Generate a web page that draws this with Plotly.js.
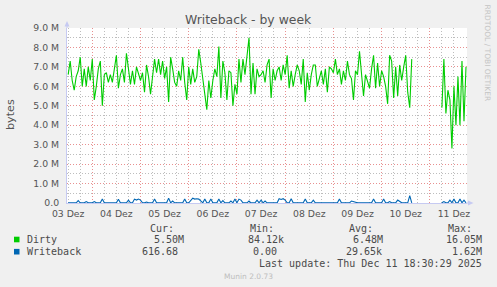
<!DOCTYPE html>
<html>
<head>
<meta charset="utf-8">
<script src="https://cdn.plot.ly/plotly-3.0.1.min.js"></script>
<style>
  html, body { margin: 0; padding: 0; background: #F0F0F0; }
  #chart { width: 497px; height: 287px; }
</style>
</head>
<body>
<div id="chart"></div>
<script>
// ---------------- DATA ----------------
const chartTitle = 'Writeback - by week';
const yTitle = 'bytes';
const dayLabels = ['03 Dez','04 Dez','05 Dez','06 Dez','07 Dez','08 Dez','09 Dez','10 Dez','11 Dez'];
const dayNoons = ['2025-12-03 12:00','2025-12-04 12:00','2025-12-05 12:00','2025-12-06 12:00','2025-12-07 12:00',
                  '2025-12-08 12:00','2025-12-09 12:00','2025-12-10 12:00','2025-12-11 12:00'];
const yTickVals = [0,1,2,3,4,5,6,7,8,9];
const yTickText = ['0.0','1.0 M','2.0 M','3.0 M','4.0 M','5.0 M','6.0 M','7.0 M','8.0 M','9.0 M'];
const xRange = ['2025-12-03 11:25:00', '2025-12-11 18:30:00'];
const seriesStart = '2025-12-03T12:00:00Z';   // first sample, hourly samples
const stepHours = 1;

// Dirty (millions of bytes), hourly
const dirty = [
  6.6,7.3,6.3,5.8,6.5,6.8,7.5,6.0,6.9,6.0,
  7.0,6.3,7.4,5.3,6.0,6.9,7.3,5.0,6.6,6.7,
  6.2,6.6,6.2,6.8,7.6,5.9,6.6,6.9,6.2,7.7,
  6.9,6.1,6.8,6.1,7.0,6.6,6.3,6.7,5.7,7.1,
  6.5,5.6,6.5,7.4,6.7,7.4,6.6,7.3,6.4,7.0,
  5.2,7.5,6.9,6.2,6.0,6.8,6.3,7.5,6.2,5.3,
  7.0,6.1,6.9,6.2,6.5,7.9,7.2,6.4,5.9,4.8,
  6.3,5.4,6.3,6.9,6.5,8.05,5.4,7.3,6.7,5.3,
  6.8,6.7,5.0,6.1,5.6,7.4,6.2,7.4,6.6,7.4,
  8.5,5.6,7.2,5.6,6.9,6.5,6.6,6.8,6.2,7.1,
  7.4,5.4,6.9,6.3,6.8,7.0,6.3,7.1,6.6,7.6,
  5.9,6.8,6.0,6.6,7.1,6.8,6.1,7.4,5.2,6.7,
  5.8,6.6,7.1,7.1,6.0,6.4,6.8,6.1,6.9,5.7,
  7.0,6.9,6.7,7.4,6.6,6.9,6.1,6.8,6.3,7.3,
  6.6,6.4,5.3,6.8,6.6,7.8,6.5,5.5,6.6,6.2,
  5.9,6.9,7.6,5.9,7.2,6.0,6.8,6.5,6.0,5.1,
  7.6,7.3,5.4,7.0,5.5,7.1,6.3,7.0,7.6,5.7,
  4.9,7.4,null,null,null,null,null,null,null,null,
  null,null,null,null,null,null,4.9,7.4,4.6,5.8,
  5.3,2.8,6.0,4.0,6.5,4.0,7.3,4.2,7.0
];

// Writeback (millions of bytes), hourly
const writeback = [
  0.01,0.01,0.01,0.01,0.01,0.12,0.01,0.01,0.01,0.07,
  0.01,0.01,0.01,0.07,0.01,0.01,0.01,0.2,0.01,0.01,
  0.01,0.01,0.01,0.01,0.01,0.19,0.01,0.01,0.01,0.01,
  0.15,0.01,0.01,0.2,0.15,0.2,0.15,0.01,0.01,0.05,
  0.01,0.01,0.01,0.2,0.01,0.01,0.01,0.01,0.01,0.01,
  0.25,0.01,0.1,0.01,0.01,0.01,0.01,0.01,0.2,0.01,
  0.01,0.15,0.25,0.2,0.22,0.2,0.12,0.01,0.2,0.01,
  0.01,0.2,0.01,0.01,0.01,0.2,0.01,0.12,0.01,0.01,
  0.01,0.1,0.01,0.2,0.01,0.2,0.15,0.01,0.01,0.01,
  0.1,0.01,0.01,0.01,0.15,0.01,0.15,0.01,0.1,0.01,
  0.01,0.01,0.01,0.01,0.01,0.22,0.18,0.22,0.15,0.01,
  0.01,0.22,0.01,0.01,0.01,0.01,0.01,0.01,0.2,0.01,
  0.01,0.01,0.15,0.01,0.01,0.01,0.01,0.01,0.01,0.01,
  0.01,0.01,0.01,0.01,0.01,0.2,0.01,0.01,0.01,0.01,
  0.01,0.1,0.07,0.01,0.01,0.01,0.01,0.01,0.01,0.01,
  0.01,0.01,0.2,0.01,0.01,0.01,0.01,0.2,0.01,0.01,
  0.07,0.01,0.01,0.01,0.15,0.1,0.01,0.01,0.01,0.01,
  0.38,0.01,null,null,null,null,null,null,null,null,
  null,null,null,null,null,null,0.01,0.07,0.01,0.01,
  0.15,0.01,0.2,0.01,0.01,0.2,0.01,0.15,0.01
];

const legendNames = ['Dirty', 'Writeback'];
const legendColors = ['#00CC00', '#0066B3'];
const statHeaders = ['Cur:', 'Min:', 'Avg:', 'Max:'];
const curVals = ['5.50M', '616.68'];
const minVals = ['84.12k', '0.00'];
const avgVals = ['6.48M', '29.65k'];
const maxVals = ['16.05M', '1.62M'];
const lastUpdate = 'Last update: Thu Dec 11 18:30:29 2025';
const footer = 'Munin 2.0.73';
const sideText = 'RRDTOOL / TOBI OETIKER';

// ---------------- BUILD ----------------
function fmt(ms) { return new Date(ms).toISOString().slice(0, 19).replace('T', ' '); }
const t0 = Date.parse(seriesStart);
function timesFor(arr) { return arr.map((_, i) => fmt(t0 + i * stepHours * 3600000)); }

// grid positions
const midnights = [], minorVals = [];
for (let d = 3; d <= 11; d++) {
  const dd = (d < 10 ? '0' : '') + d;
  if (d > 3) midnights.push('2025-12-' + dd + ' 00:00');
  minorVals.push('2025-12-' + dd + ' 06:00');
  minorVals.push('2025-12-' + dd + ' 18:00');
}

// layout geometry helpers (plot area: x 67..467, y 28..203)
const L = 67, R = 467, T = 28, B = 203;
const px = x => (x - L) / (R - L);
const py = y => (B - y) / (B - T);

const mono = 'DejaVu Sans Mono';
const sans = 'DejaVu Sans';
const txtColor = '#4a4a4a';

const annotations = [];
function ann(x, y, text, o) {
  annotations.push(Object.assign({
    xref: 'paper', yref: 'paper', x: px(x), y: py(y), text: text, showarrow: false,
    xanchor: 'left', yanchor: 'middle', borderpad: 0,
    font: { family: mono, size: 10, color: txtColor }
  }, o || {}));
}

ann(248, 19, chartTitle, { xanchor: 'center', font: { family: sans, size: 12.4, color: '#555555' } });
ann(10.5, 114.5, yTitle, { xanchor: 'center', textangle: -90, font: { family: sans, size: 11.2, color: '#555555' } });
ann(487.5, 53, sideText, { xanchor: 'center', textangle: 90, font: { family: sans, size: 7.5, color: '#C4C4C4' } });

const headerX = [149, 249, 348, 446.7];
statHeaders.forEach((h, i) => ann(headerX[i], 228.5, h));
const rowY = [239.5, 251.7];
const valRight = [[185, 285, 384, 483], [179, 278, 383, 483]];
legendNames.forEach((n, r) => {
  ann(26, rowY[r], n);
  [curVals, minVals, avgVals, maxVals].forEach((arr, c) => ann(valRight[r][c], rowY[r], arr[r], { xanchor: 'right' }));
});
ann(482.5, 263.8, lastUpdate, { xanchor: 'right' });
ann(248, 276.5, footer, { xanchor: 'center', font: { family: sans, size: 7.5, color: '#BDBDBD' } });

const axisCol = '#C6CAF2';
const shapes = [];
legendNames.forEach((n, r) => {
  shapes.push({ type: 'rect', xref: 'paper', yref: 'paper', x0: px(14), x1: px(19.5),
    y0: py(rowY[r] + 2.8), y1: py(rowY[r] - 2.8), fillcolor: legendColors[r], line: { width: 0 } });
});
// axis arrows
shapes.push({ type: 'line', xref: 'paper', yref: 'paper', x0: 0, x1: 0, y0: 1, y1: py(24), line: { color: axisCol, width: 1 } });
shapes.push({ type: 'path', xref: 'paper', yref: 'paper',
  path: `M ${px(64.5)},${py(26.5)} L ${px(69.5)},${py(26.5)} L ${px(67)},${py(21)} Z`, fillcolor: axisCol, line: { width: 0 } });
shapes.push({ type: 'line', xref: 'paper', yref: 'paper', x0: 1, x1: px(469), y0: 0, y1: 0, line: { color: axisCol, width: 1 } });
shapes.push({ type: 'path', xref: 'paper', yref: 'paper',
  path: `M ${px(468)},${py(200.5)} L ${px(468)},${py(205.5)} L ${px(473.5)},${py(203)} Z`, fillcolor: axisCol, line: { width: 0 } });

const gridGray = '#BDBDBD';
const gridRed = '#E89090';
const dashS = '1px,2px';

const traces = [
  { type: 'scatter', mode: 'lines', x: timesFor(dirty), y: dirty, name: legendNames[0],
    line: { color: legendColors[0], width: 1.1 }, connectgaps: false, hoverinfo: 'skip', xaxis: 'x', yaxis: 'y' },
  { type: 'scatter', mode: 'lines', x: timesFor(writeback), y: writeback, name: legendNames[1],
    line: { color: legendColors[1], width: 1.1 }, connectgaps: false, hoverinfo: 'skip', xaxis: 'x2', yaxis: 'y' }
];

const layout = {
  width: 497, height: 287,
  margin: { l: L, r: 497 - R, t: T, b: 287 - B, pad: 0 },
  paper_bgcolor: '#F0F0F0', plot_bgcolor: '#FFFFFF',
  showlegend: false,
  xaxis: {
    type: 'date', range: xRange, tickmode: 'array', tickvals: dayNoons, ticktext: dayLabels,
    showgrid: true, gridcolor: gridGray, griddash: dashS, gridwidth: 1,
    minor: { tickmode: 'array', tickvals: minorVals, showgrid: true, gridcolor: gridGray, griddash: dashS, gridwidth: 1, ticks: '' },
    ticks: '', showline: true, linecolor: axisCol, linewidth: 1, zeroline: false,
    tickfont: { family: sans, size: 9.3, color: '#555555' }, ticklabelstandoff: 2, fixedrange: true
  },
  xaxis2: {
    type: 'date', range: xRange, overlaying: 'x', side: 'bottom', tickmode: 'array', tickvals: midnights,
    showticklabels: false, ticks: '', showgrid: true, gridcolor: gridRed, griddash: dashS, gridwidth: 1,
    showline: false, zeroline: false, fixedrange: true
  },
  yaxis: {
    range: [0, 9], tickmode: 'array', tickvals: yTickVals, ticktext: yTickText,
    showgrid: true, gridcolor: gridRed, griddash: dashS, gridwidth: 1,
    minor: { tickmode: 'linear', tick0: 0, dtick: 0.5, showgrid: true, gridcolor: gridGray, griddash: dashS, gridwidth: 1, ticks: '' },
    ticks: '', showline: true, linecolor: axisCol, linewidth: 1, zeroline: false,
    tickfont: { family: sans, size: 9.3, color: '#555555' }, ticklabelstandoff: 5, fixedrange: true
  },
  annotations: annotations,
  shapes: shapes
};

Plotly.newPlot('chart', traces, layout, { staticPlot: true, displayModeBar: false });
</script>
</body>
</html>
